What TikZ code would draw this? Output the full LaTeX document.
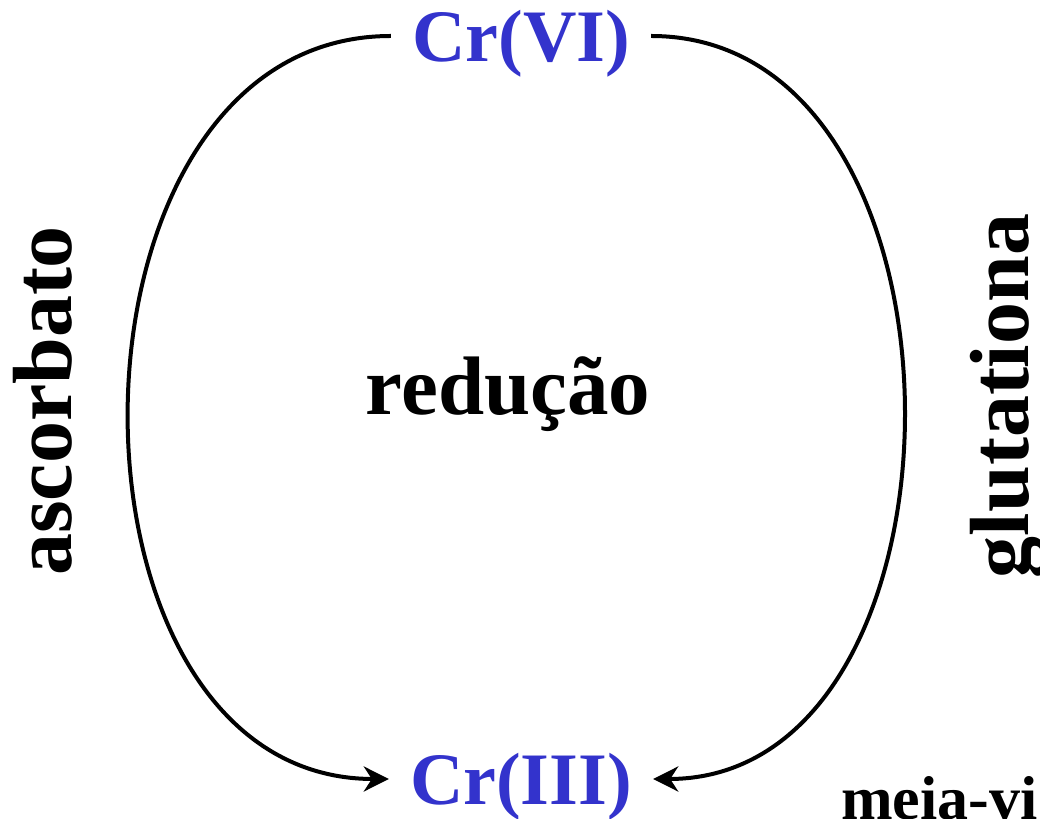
\documentclass[tikz,border=0pt]{standalone}
\usepackage{fontspec}
\setmainfont{Liberation Serif}
\usepackage{xcolor}
\usepackage{tikz}
\usetikzlibrary{arrows.meta}
\definecolor{crblue}{RGB}{51,51,204}

\begin{document}
\begin{tikzpicture}[x=1bp,y=1bp,>={Stealth[length=25bp,width=25bp,inset=8bp]},
    species/.style={inner xsep=21bp,inner ysep=0pt,text height=52bp,text depth=0pt,anchor=base,text=crblue,font=\bfseries\fontsize{74bp}{80bp}\selectfont},
    reductant/.style={rotate=90,inner sep=0pt,anchor=base,font=\bfseries\fontsize{84bp}{90bp}\selectfont}]
  \useasboundingbox (0,0) rectangle (1040,819);
  \node[species] (vi) at (521,757) {Cr(VI)};
  \node[species] (iii) at (521,14) {Cr(III)};
  \node[inner sep=0pt,anchor=base,font=\bfseries\fontsize{83bp}{90bp}\selectfont] (red) at (508,404) {redução};
  \node[reductant] (asc) at (71,418) {ascorbato};
  \node[reductant] (glu) at (1028,423) {glutationa};
  \node[inner sep=0pt,anchor=base west,font=\bfseries\fontsize{62bp}{70bp}\selectfont] (meia) at (841,-1) {meia-vi};
  \draw[->,line width=4bp] (vi.west) .. controls +(-347,0) and +(-347,0) .. (iii.west);
  \draw[->,line width=4bp] (vi.east) .. controls +(337,0) and +(332,0) .. (iii.east);
\end{tikzpicture}
\end{document}
